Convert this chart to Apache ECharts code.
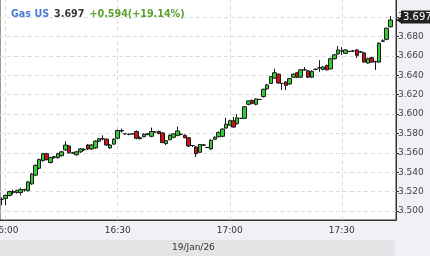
<!DOCTYPE html>
<html><head><meta charset="utf-8">
<script src="https://cdn.jsdelivr.net/npm/echarts@6/dist/echarts.min.js"></script>
<style>html,body{margin:0;padding:0;background:#f0f1f4;}#c{width:430px;height:256px;}</style>
</head><body><div id="c"></div>
<script>
// minute candles 15:59 .. 17:43 (last slot 17:44 empty)
const times = [];
for (let m = 15 * 60 + 59; m <= 17 * 60 + 44; m++) {
  times.push(Math.floor(m / 60) + ':' + String(m % 60).padStart(2, '0'));
}
const opens = [3.512,3.513,3.516,3.520,3.519,3.519,3.522,3.521,3.528,3.537,3.544,3.552,3.559,3.550,3.555,3.555,3.557,3.563,3.567,3.5595,3.558,3.561,3.563,3.568,3.564,3.565,3.572,3.5745,3.574,3.565,3.569,3.575,3.583,3.5795,3.579,3.5795,3.582,3.5745,3.5765,3.579,3.577,3.5815,3.582,3.5805,3.5695,3.5735,3.576,3.578,3.579,3.578,3.5755,3.5675,3.566,3.5605,3.568,3.5655,3.564,3.574,3.5765,3.577,3.5855,3.5885,3.593,3.590,3.5955,3.5955,3.610,3.614,3.610,3.615,3.618,3.626,3.6315,3.637,3.641,3.6315,3.633,3.631,3.638,3.6425,3.638,3.6455,3.6445,3.638,3.646,3.6475,3.646,3.650,3.6465,3.657,3.662,3.665,3.6625,3.6645,3.665,3.666,3.664,3.663,3.6525,3.658,3.654,3.6535,3.675,3.677,3.690];
const closes = [3.512,3.516,3.520,3.519,3.521,3.522,3.522,3.530,3.538,3.547,3.553,3.559,3.553,3.555,3.556,3.559,3.561,3.568,3.560,3.560,3.561,3.564,3.5635,3.564,3.568,3.572,3.5745,3.5745,3.568,3.568,3.574,3.583,3.5825,3.5795,3.579,3.5795,3.575,3.5755,3.579,3.5795,3.582,3.5815,3.580,3.5705,3.5725,3.578,3.5795,3.5825,3.579,3.5755,3.567,3.5675,3.559,3.5685,3.568,3.5655,3.573,3.576,3.581,3.5845,3.5895,3.593,3.5865,3.596,3.5955,3.6075,3.6135,3.611,3.6155,3.615,3.6255,3.630,3.6385,3.6425,3.632,3.6315,3.6295,3.6365,3.641,3.638,3.6455,3.6455,3.638,3.644,3.646,3.6475,3.6485,3.6455,3.657,3.661,3.666,3.665,3.666,3.6645,3.665,3.6605,3.664,3.6535,3.657,3.6535,3.654,3.673,3.6755,3.6885,3.697];
const lows = [3.506,3.506,3.515,3.517,3.518,3.516,3.520,3.520,3.527,3.536,3.543,3.551,3.552,3.549,3.554,3.554,3.556,3.562,3.559,3.559,3.557,3.560,3.562,3.563,3.563,3.564,3.571,3.573,3.567,3.564,3.568,3.574,3.581,3.579,3.578,3.579,3.574,3.574,3.576,3.578,3.576,3.581,3.579,3.570,3.568,3.573,3.575,3.577,3.578,3.575,3.566,3.566,3.5555,3.560,3.567,3.565,3.563,3.573,3.576,3.576,3.585,3.588,3.586,3.589,3.595,3.595,3.609,3.610,3.609,3.6145,3.617,3.625,3.631,3.636,3.631,3.6247,3.6247,3.630,3.637,3.637,3.637,3.645,3.637,3.637,3.645,3.6435,3.645,3.645,3.646,3.656,3.661,3.661,3.662,3.664,3.664,3.6577,3.663,3.653,3.652,3.653,3.6454,3.653,3.674,3.676,3.689];
const highs = [3.514,3.517,3.521,3.522,3.522,3.524,3.523,3.531,3.539,3.548,3.554,3.560,3.560,3.556,3.557,3.560,3.562,3.572,3.568,3.561,3.562,3.565,3.565,3.569,3.569,3.573,3.575,3.578,3.575,3.569,3.575,3.584,3.585,3.580,3.580,3.580,3.583,3.577,3.580,3.580,3.586,3.582,3.583,3.581,3.573,3.579,3.580,3.587,3.580,3.579,3.576,3.568,3.567,3.569,3.569,3.566,3.574,3.577,3.582,3.585,3.596,3.594,3.597,3.600,3.596,3.608,3.614,3.615,3.616,3.6155,3.626,3.631,3.639,3.6467,3.642,3.632,3.634,3.637,3.642,3.643,3.646,3.6485,3.645,3.645,3.647,3.6555,3.649,3.651,3.658,3.662,3.670,3.669,3.667,3.665,3.666,3.667,3.665,3.664,3.658,3.659,3.655,3.674,3.677,3.689,3.701];
const yTickStep = 0.02;
const yMin = 3.49072, yMax = 3.71856;

const candles = opens.map((o, i) => [o, closes[i], lows[i], highs[i]]);
const lastClose = closes[closes.length - 1];
const isMajor = (idx) => { const t = times[idx]; return !!t && (t.endsWith(':00') || t.endsWith(':30')); };

const chart = echarts.init(document.getElementById('c'), null, { renderer: 'canvas' });
chart.setOption({
  animation: false,
  backgroundColor: '#f0f1f4',
  title: {
    left: 6, top: 0,
    text: '{a|Gas US} {b|3.697} {c|+0.594(+19.14%)}',
    textStyle: {
      rich: {
        a: { color: '#4a7bd4', fontWeight: 'bold', fontSize: 9.6, fontFamily: 'DejaVu Sans' },
        b: { color: '#3a3a3a', fontWeight: 'bold', fontSize: 9.6, fontFamily: 'DejaVu Sans' },
        c: { color: '#5aa02a', fontWeight: 'bold', fontSize: 9.6, fontFamily: 'DejaVu Sans' }
      }
    }
  },
  grid: { left: 0, right: 34, top: -1, bottom: 36, outerBoundsMode: 'none', containLabel: false, show: true, backgroundColor: '#ffffff', borderColor: '#333', borderWidth: 1 },
  graphic: [
    { type: 'rect', left: 0, top: 240, shape: { width: 395, height: 16 }, style: { fill: '#e3e4e6' }, z: -1 },
    { type: 'text', left: 172, top: 243, style: { text: '19/Jan/26', fill: '#333', font: '9px "DejaVu Sans"' } }
  ],
  xAxis: {
    type: 'category', data: times, boundaryGap: true,
    axisLine: { show: true, lineStyle: { color: '#333' } },
    axisTick: { show: false },
    axisLabel: { interval: (i) => isMajor(i), color: '#333', fontSize: 9, fontFamily: 'DejaVu Sans', margin: 6 },
    splitLine: { show: true, interval: (i) => isMajor(i), alignWithLabel: true, lineStyle: { color: '#dcdcdc', type: [4, 3] } }
  },
  yAxis: {
    type: 'value', position: 'right', scale: true,
    min: yMin, max: yMax, splitNumber: 11, minInterval: yTickStep, maxInterval: yTickStep,
    axisLine: { show: true, lineStyle: { color: '#333' } },
    axisTick: { show: true, length: 3, lineStyle: { color: '#333' } },
    axisLabel: { color: '#444', fontSize: 9, fontFamily: 'DejaVu Sans', margin: 2, showMinLabel: false, showMaxLabel: false, formatter: (v) => v.toFixed(3) },
    splitLine: { show: true, lineStyle: { color: '#dcdcdc', type: [4, 3] } }
  },
  series: [{
    type: 'candlestick',
    data: candles,
    barWidth: 4,
    itemStyle: { color: '#33cc33', color0: '#cc1111', borderColor: '#1a1a1a', borderColor0: '#1a1a1a', borderWidth: 1 },
    markLine: {
      silent: true, symbol: ['none', 'none'], z: 10,
      lineStyle: { color: 'rgba(0,0,0,0)', width: 0 },
      label: { show: true, opacity: 1, position: 'end', distance: 5, formatter: () => lastClose.toFixed(3), color: '#fff', backgroundColor: '#222', padding: [2, 2, 1, 2], fontSize: 10, fontFamily: 'DejaVu Sans' },
      data: [{ yAxis: lastClose }]
    },
    markPoint: {
      silent: true, symbol: 'triangle', symbolSize: [8, 6], symbolRotate: 90, symbolOffset: [5, 0],
      itemStyle: { color: '#222' }, label: { show: false },
      data: [{ coord: [times[times.length - 1], lastClose] }]
    }
  }]
});
</script></body></html>
